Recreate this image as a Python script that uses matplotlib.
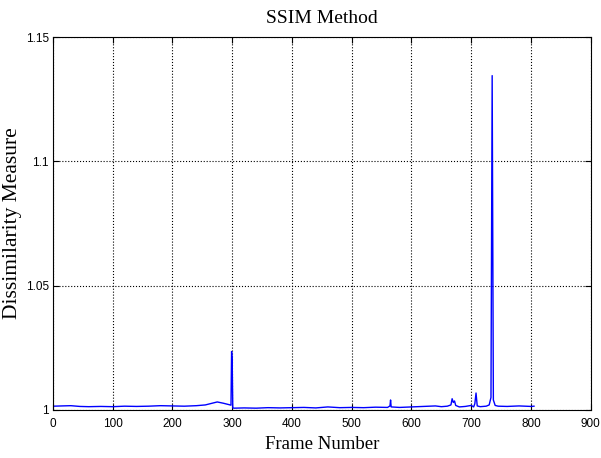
import matplotlib.pyplot as plt

# frame numbers and SSIM dissimilarity values
frames = [1, 15, 30, 45, 60, 80, 100, 120, 140, 160, 180, 200, 220, 240, 255,
          265, 275, 285, 295, 298, 299, 300, 301, 303, 320, 340, 360, 380, 400,
          420, 440, 460, 480, 500, 520, 540, 560, 564, 565, 566, 580, 600, 620,
          640, 650, 660, 666, 668, 670, 672, 674, 680, 690, 700, 704, 706, 708,
          710, 715, 725, 730, 733, 735, 737, 740, 745, 760, 780, 800, 805]
values = [1.0015, 1.0016, 1.0017, 1.0014, 1.0013, 1.0014, 1.0013, 1.0015, 1.0014,
          1.0015, 1.0017, 1.0016, 1.0015, 1.0017, 1.0020,
          1.0026, 1.0032, 1.0027, 1.0021, 1.0019, 1.0235, 1.0200, 1.0008, 1.0007,
          1.0008, 1.0007, 1.0009, 1.0008, 1.0009,
          1.0010, 1.0008, 1.0012, 1.0009, 1.0010, 1.0009, 1.0011, 1.0010, 1.0016,
          1.0040, 1.0012, 1.0010, 1.0012, 1.0014,
          1.0016, 1.0013, 1.0015, 1.0020, 1.0045, 1.0030, 1.0036, 1.0018, 1.0012,
          1.0014, 1.0018, 1.0012, 1.0025, 1.0068,
          1.0016, 1.0013, 1.0015, 1.0020, 1.0050, 1.1345, 1.0040, 1.0018, 1.0015,
          1.0014, 1.0016, 1.0014, 1.0015]

xticks = list(range(0, 901, 100))
yticks = [1, 1.05, 1.1, 1.15]
ytick_labels = ['1', '1.05', '1.1', '1.15']

fig = plt.figure(figsize=(6.01, 4.58), dpi=100)
ax = fig.add_axes([0.088, 0.105, 0.895, 0.814])
ax.plot(frames, values, color='#0000ff', linewidth=1.0)

ax.set_xlim(0, 900)
ax.set_ylim(1, 1.15)
ax.set_xticks(xticks)
ax.set_yticks(yticks)
ax.set_yticklabels(ytick_labels)
ax.grid(True, color='black', linestyle=':', linewidth=0.8)
ax.tick_params(direction='in', length=4, top=True, right=True, labelsize=8.5)
ax.tick_params(axis='x', pad=6)
ax.tick_params(axis='y', pad=3)
for lab in ax.get_xticklabels() + ax.get_yticklabels():
    lab.set_fontfamily('Liberation Sans')

ax.set_title('SSIM Method', fontfamily='Liberation Serif', fontsize=14, pad=10)
ax.set_xlabel('Frame Number', fontfamily='Liberation Serif', fontsize=13.5)
ax.set_ylabel('Dissimilarity Measure', fontfamily='Liberation Serif', fontsize=15.5)
ax.xaxis.set_label_coords(0.5, -0.07)
ax.yaxis.set_label_coords(-0.058, 0.5)

fig.savefig('out.png', dpi=100)
